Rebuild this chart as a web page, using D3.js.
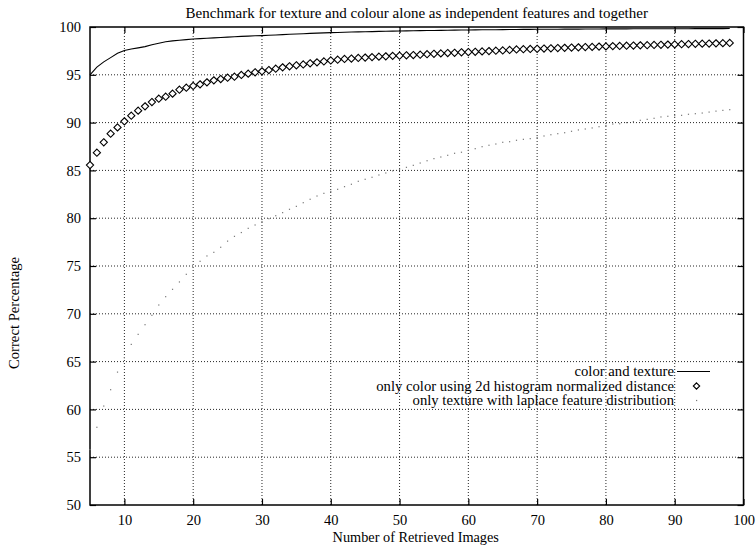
<!DOCTYPE html>
<html>
<head>
<meta charset="utf-8">
<script src="https://cdn.jsdelivr.net/npm/d3@7"></script>
<style>
  body { margin: 0; background: #fff; }
  svg text { font-family: "Liberation Serif", "Times New Roman", serif; fill: #000; }
  .grid line { stroke: #000; stroke-dasharray: 1,2; stroke-width: 1; opacity: 0.85; }
</style>
</head>
<body>
<svg id="chart"></svg>
<script>
// number of retrieved images, 5 .. 98
var retrieved = d3.range(5, 99);

var colorTexture = [
  95.0, 95.8, 96.35, 96.8, 97.25, 97.55, 97.7, 97.82, 97.95, 98.15,
  98.3, 98.45, 98.55, 98.62, 98.68, 98.74, 98.78, 98.82, 98.86, 98.9,
  98.94, 98.98, 99.02, 99.05, 99.08, 99.1, 99.13, 99.16, 99.2, 99.24,
  99.27, 99.3, 99.33, 99.36, 99.39, 99.41, 99.43, 99.45, 99.47, 99.49,
  99.5, 99.52, 99.54, 99.55, 99.57, 99.58, 99.59, 99.6, 99.62, 99.63,
  99.64, 99.65, 99.66, 99.67, 99.68, 99.69, 99.7, 99.71, 99.72, 99.72,
  99.73, 99.74, 99.74, 99.75, 99.75, 99.76, 99.76, 99.77, 99.77, 99.78,
  99.78, 99.78, 99.79, 99.79, 99.79, 99.8, 99.8, 99.8, 99.8, 99.81,
  99.81, 99.81, 99.81, 99.82, 99.82, 99.82, 99.82, 99.82, 99.83, 99.83,
  99.83, 99.83, 99.83, 99.84
];

var colorOnly = [
  85.56, 86.85, 87.94, 88.84, 89.5, 90.13, 90.72, 91.25, 91.7, 92.15,
  92.5, 92.71, 93.03, 93.44, 93.65, 93.83, 94.0, 94.21, 94.42, 94.56,
  94.7, 94.8, 94.98, 95.12, 95.26, 95.36, 95.5, 95.64, 95.78, 95.89,
  95.99, 96.08, 96.2, 96.3, 96.4, 96.5, 96.58, 96.66, 96.7, 96.76,
  96.8, 96.85, 96.9, 96.93, 96.98, 97.0, 97.04, 97.07, 97.1, 97.15,
  97.2, 97.24, 97.28, 97.3, 97.35, 97.38, 97.41, 97.45, 97.48, 97.52,
  97.55, 97.6, 97.65, 97.68, 97.7, 97.72, 97.75, 97.77, 97.8, 97.82,
  97.85, 97.87, 97.9, 97.92, 97.95, 97.97, 98.0, 98.02, 98.04, 98.06,
  98.08, 98.1, 98.12, 98.14, 98.16, 98.18, 98.2, 98.22, 98.24, 98.26,
  98.27, 98.29, 98.31, 98.33
];

var textureOnly = [
  55.8, 58.13, 60.35, 62.06, 63.9, 65.4, 66.8, 67.85, 68.86, 69.84,
  70.92, 71.79, 72.56, 73.33, 74.13, 74.85, 75.49, 76.05, 76.43, 76.96,
  77.6, 78.1, 78.5, 78.94, 79.29, 79.65, 79.95, 80.26, 80.58, 80.93,
  81.24, 81.62, 81.98, 82.32, 82.6, 82.8, 83.02, 83.3, 83.55, 83.86,
  84.07, 84.28, 84.52, 84.73, 84.95, 85.12, 85.32, 85.53, 85.77, 86.01,
  86.23, 86.4, 86.58, 86.79, 86.9, 87.1, 87.27, 87.48, 87.63, 87.76,
  87.94, 88.0, 88.15, 88.25, 88.32, 88.45, 88.6, 88.73, 88.84, 88.94,
  89.09, 89.23, 89.33, 89.44, 89.57, 89.7, 89.85, 89.88, 90.0, 90.1,
  90.24, 90.34, 90.45, 90.59, 90.66, 90.72, 90.76, 90.87, 90.93, 91.0,
  91.1, 91.2, 91.28, 91.35
];

var xTicks = [10, 20, 30, 40, 50, 60, 70, 80, 90, 100];
var yTicks = [50, 55, 60, 65, 70, 75, 80, 85, 90, 95, 100];
var legendLabels = [
  "color and texture",
  "only color using 2d histogram normalized distance",
  "only texture with laplace feature distribution"
];

var width = 756, height = 546;
var margin = { top: 27, right: 12.5, bottom: 41, left: 90 };
var chartWidth = width - margin.left - margin.right,
    chartHeight = height - margin.top - margin.bottom;

var svg = d3.select('#chart').attr('width', width).attr('height', height);
var g = svg.append('g').attr('transform', 'translate(' + margin.left + ',' + margin.top + ')');

var x = d3.scaleLinear().domain([5, 100]).range([0, chartWidth]);
var y = d3.scaleLinear().domain([50, 100]).range([chartHeight, 0]);

// grid
g.append('g').attr('class', 'grid')
  .selectAll('line').data(xTicks.filter(function(d) { return d < 100; }))
  .enter().append('line')
  .attr('x1', function(d) { return x(d); }).attr('x2', function(d) { return x(d); })
  .attr('y1', 0).attr('y2', chartHeight);
g.append('g').attr('class', 'grid')
  .selectAll('line').data(yTicks.filter(function(d) { return d > 50 && d < 100; }))
  .enter().append('line')
  .attr('x1', 0).attr('x2', chartWidth)
  .attr('y1', function(d) { return y(d); }).attr('y2', function(d) { return y(d); });

// axes with inward ticks, mirrored
var tick = 6;
var xAxis = g.append('g').attr('transform', 'translate(0,' + chartHeight + ')')
  .call(d3.axisBottom(x).tickValues(xTicks).tickSize(-tick).tickSizeOuter(0).tickPadding(10));
var yAxis = g.append('g')
  .call(d3.axisLeft(y).tickValues(yTicks).tickSize(-tick).tickSizeOuter(0).tickPadding(9));
var xTop = g.append('g')
  .call(d3.axisTop(x).tickValues(xTicks).tickSize(-tick).tickSizeOuter(0).tickFormat(''));
var yRight = g.append('g').attr('transform', 'translate(' + chartWidth + ',0)')
  .call(d3.axisRight(y).tickValues(yTicks).tickSize(-tick).tickSizeOuter(0).tickFormat(''));
[xAxis, yAxis, xTop, yRight].forEach(function(a) {
  a.attr('font-family', null).attr('font-size', null);
  a.select('.domain').remove();
  a.selectAll('line').attr('stroke', '#000').attr('stroke-width', 1.2);
  a.selectAll('text').style('font-size', '14.5px');
});

g.append('rect')
  .attr('x', 0).attr('y', 0).attr('width', chartWidth).attr('height', chartHeight)
  .attr('fill', 'none').attr('stroke', '#000').attr('stroke-width', 1.5);

// series
var line = d3.line()
  .x(function(d, i) { return x(retrieved[i]); })
  .y(function(d) { return y(d); });

g.append('path').datum(colorTexture)
  .attr('d', line)
  .attr('fill', 'none').attr('stroke', '#000').attr('stroke-width', 1.1);

var diamond = function(cx, cy, r) {
  return 'M' + cx + ',' + (cy - r) + 'L' + (cx + r) + ',' + cy +
         'L' + cx + ',' + (cy + r) + 'L' + (cx - r) + ',' + cy + 'Z';
};

g.selectAll('.pointd3').data(colorOnly)
  .enter().append('path')
  .attr('class', 'pointd3')
  .attr('d', function(d, i) { return diamond(x(retrieved[i]), y(d), 3.6); })
  .attr('fill', '#fff').attr('stroke', '#000').attr('stroke-width', 1.1);

g.selectAll('.dotd3').data(textureOnly)
  .enter().append('rect')
  .attr('class', 'dotd3')
  .attr('x', function(d, i) { return x(retrieved[i]) - 0.6; })
  .attr('y', function(d) { return y(d) - 0.6; })
  .attr('width', 1.2).attr('height', 1.2)
  .attr('fill', '#777');

// legend
var legendRight = 674, legendTop = 371.5, legendStep = 14.5;
var legend = svg.append('g');
legendLabels.forEach(function(lab, i) {
  var ly = legendTop + i * legendStep;
  legend.append('text')
    .attr('x', legendRight).attr('y', ly).attr('dy', '0.33em')
    .style('text-anchor', 'end').style('font-size', '14.7px')
    .text(lab);
});
legend.append('line')
  .attr('x1', 677).attr('x2', 710).attr('y1', legendTop).attr('y2', legendTop)
  .attr('stroke', '#000').attr('stroke-width', 1.1);
legend.append('path')
  .attr('d', diamond(696.5, legendTop + legendStep, 3.2))
  .attr('fill', '#fff').attr('stroke', '#000').attr('stroke-width', 1.1);
legend.append('rect')
  .attr('x', 696).attr('y', legendTop + 2 * legendStep - 0.6)
  .attr('width', 1.2).attr('height', 1.2).attr('fill', '#777');

// titles
svg.append('text')
  .attr('x', margin.left + chartWidth / 2).attr('y', 18)
  .style('text-anchor', 'middle').style('font-size', '15px')
  .text('Benchmark for texture and colour alone as independent features and together');

svg.append('text')
  .attr('x', margin.left + chartWidth / 2 - 1).attr('y', 541.5)
  .style('text-anchor', 'middle').style('font-size', '14.3px')
  .text('Number of Retrieved Images');

svg.append('text')
  .attr('transform', 'translate(19,313) rotate(-90)')
  .style('text-anchor', 'middle').style('font-size', '14.7px')
  .text('Correct Percentage');
</script>
</body>
</html>
